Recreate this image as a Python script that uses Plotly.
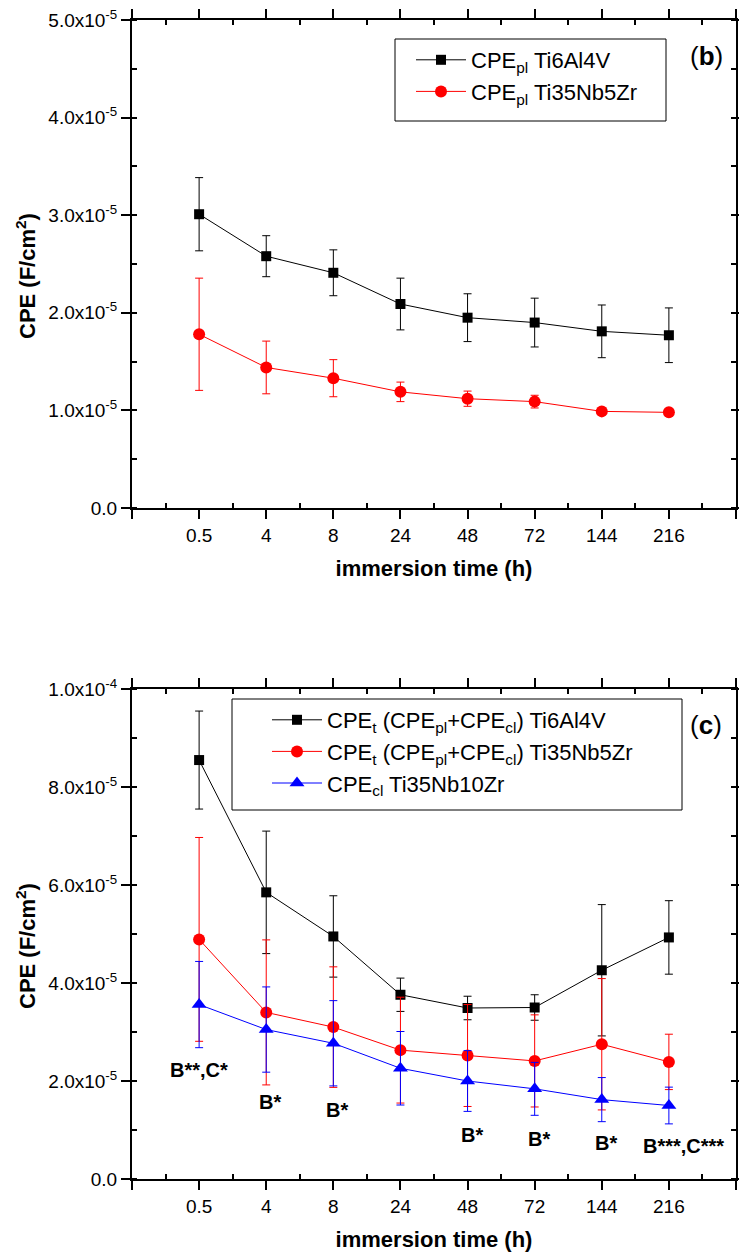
import plotly.graph_objects as go

# immersion times (categorical positions 0..7)
times = ["0.5", "4", "8", "24", "48", "72", "144", "216"]

# (b) CPE_pl values and standard deviations, F/cm^2
cpe_pl_ti6al4v = [3.01e-5, 2.58e-5, 2.41e-5, 2.09e-5, 1.95e-5, 1.90e-5, 1.81e-5, 1.77e-5]
cpe_pl_ti6al4v_sd = [0.375e-5, 0.21e-5, 0.235e-5, 0.265e-5, 0.245e-5, 0.25e-5, 0.27e-5, 0.28e-5]
cpe_pl_ti35nb5zr = [1.78e-5, 1.44e-5, 1.33e-5, 1.19e-5, 1.12e-5, 1.09e-5, 0.99e-5, 0.98e-5]
cpe_pl_ti35nb5zr_sd = [0.575e-5, 0.27e-5, 0.19e-5, 0.10e-5, 0.078e-5, 0.065e-5, 0.02e-5, 0.03e-5]

# (c) CPE_t / CPE_cl values and standard deviations, F/cm^2
cpe_t_ti6al4v = [8.55e-5, 5.85e-5, 4.95e-5, 3.76e-5, 3.49e-5, 3.50e-5, 4.26e-5, 4.93e-5]
cpe_t_ti6al4v_sd = [1.0e-5, 1.25e-5, 0.83e-5, 0.34e-5, 0.24e-5, 0.26e-5, 1.34e-5, 0.75e-5]
cpe_t_ti35nb5zr = [4.89e-5, 3.40e-5, 3.10e-5, 2.63e-5, 2.52e-5, 2.41e-5, 2.75e-5, 2.39e-5]
cpe_t_ti35nb5zr_sd = [2.08e-5, 1.48e-5, 1.23e-5, 1.08e-5, 1.04e-5, 0.94e-5, 1.34e-5, 0.565e-5]
cpe_cl_ti35nb10zr = [3.56e-5, 3.05e-5, 2.77e-5, 2.26e-5, 2.00e-5, 1.84e-5, 1.62e-5, 1.50e-5]
cpe_cl_ti35nb10zr_sd = [0.88e-5, 0.87e-5, 0.87e-5, 0.75e-5, 0.62e-5, 0.54e-5, 0.45e-5, 0.375e-5]

# significance marks under each time point in (c)
sig_labels = ["B**,C*", "B*", "B*", "", "B*", "B*", "B*", "B***,C***"]

# y tick labels
b_tickvals = [0, 1e-5, 2e-5, 3e-5, 4e-5, 5e-5]
b_ticktext = ["0.0", "1.0x10<sup>-5</sup>", "2.0x10<sup>-5</sup>", "3.0x10<sup>-5</sup>",
              "4.0x10<sup>-5</sup>", "5.0x10<sup>-5</sup>"]
c_tickvals = [0, 2e-5, 4e-5, 6e-5, 8e-5, 1e-4]
c_ticktext = ["0.0", "2.0x10<sup>-5</sup>", "4.0x10<sup>-5</sup>", "6.0x10<sup>-5</sup>",
              "8.0x10<sup>-5</sup>", "1.0x10<sup>-4</sup>"]

FONT = "Liberation Sans, Arial, sans-serif"
W, H = 739, 1253
x_idx = list(range(len(times)))

fig = go.Figure()


def add_series(y, sd, name, color, symbol, size, xaxis, yaxis, legend):
    fig.add_trace(go.Scatter(
        x=x_idx, y=y, name=name, mode="lines+markers",
        xaxis=xaxis, yaxis=yaxis, legend=legend,
        line=dict(color=color, width=1),
        marker=dict(color=color, symbol=symbol, size=size, line=dict(width=0)),
        error_y=dict(type="data", array=sd, visible=True, color=color,
                     thickness=1, width=4),
    ))


add_series(cpe_pl_ti6al4v, cpe_pl_ti6al4v_sd, "CPE<sub>pl</sub> Ti6Al4V",
           "#000000", "square", 10, "x", "y", "legend")
add_series(cpe_pl_ti35nb5zr, cpe_pl_ti35nb5zr_sd, "CPE<sub>pl</sub> Ti35Nb5Zr",
           "#ff0000", "circle", 12, "x", "y", "legend")

add_series(cpe_t_ti6al4v, cpe_t_ti6al4v_sd,
           "CPE<sub>t</sub> (CPE<sub>pl</sub>+CPE<sub>cl</sub>) Ti6Al4V",
           "#000000", "square", 10, "x2", "y2", "legend2")
add_series(cpe_t_ti35nb5zr, cpe_t_ti35nb5zr_sd,
           "CPE<sub>t</sub> (CPE<sub>pl</sub>+CPE<sub>cl</sub>) Ti35Nb5Zr",
           "#ff0000", "circle", 12, "x2", "y2", "legend2")
add_series(cpe_cl_ti35nb10zr, cpe_cl_ti35nb10zr_sd, "CPE<sub>cl</sub> Ti35Nb10Zr",
           "#0000ff", "triangle-up", 13, "x2", "y2", "legend2")

# plot areas (pixels) -> paper fractions
left_px, right_px = 132, 736
b_top, b_bot = 20, 508
c_top, c_bot = 689, 1179
xdom = [left_px / W, right_px / W]
ydom_b = [1 - b_bot / H, 1 - b_top / H]
ydom_c = [1 - c_bot / H, 1 - c_top / H]

major_x = list(range(-1, len(times) + 1))
major_x_text = [""] + times + [""]
minor_x = [i + 0.5 for i in range(-1, len(times))]

common_x = dict(
    range=[-1, len(times)], tickmode="array", tickvals=major_x, ticktext=major_x_text,
    ticks="outside", ticklen=9, tickwidth=1.5, tickcolor="black",
    minor=dict(tickmode="array", tickvals=minor_x, ticks="inside", ticklen=5,
               tickwidth=1.5, tickcolor="black"),
    showline=True, linewidth=2, linecolor="black", mirror="ticks",
    showgrid=False, zeroline=False, automargin=False,
    tickfont=dict(family=FONT, size=19, color="black"),
    title=dict(text="<b>immersion time (h)</b>", font=dict(family=FONT, size=22, color="black"),
               standoff=16),
)

common_y = dict(
    ticks="outside", ticklen=9, tickwidth=1.5, tickcolor="black",
    showline=True, linewidth=2, linecolor="black", mirror="ticks",
    showgrid=False, zeroline=False, automargin=False,
    tickfont=dict(family=FONT, size=19, color="black"),
)

legend_style = dict(xanchor="left", yanchor="top",
                    borderwidth=0, bgcolor="rgba(0,0,0,0)",
                    font=dict(family=FONT, size=22, color="black"),
                    itemwidth=50, tracegroupgap=0)

fig.update_layout(
    width=W, height=H,
    margin=dict(l=0, r=0, t=0, b=0),
    paper_bgcolor="white", plot_bgcolor="white",
    font=dict(family=FONT, color="black"),
    xaxis=dict(common_x, domain=xdom, anchor="y"),
    yaxis=dict(common_y, domain=ydom_b, anchor="x", range=[0, 5e-5],
               tickmode="array", tickvals=b_tickvals, ticktext=b_ticktext,
               minor=dict(dtick=0.5e-5, tick0=0, ticks="inside", ticklen=5,
                          tickwidth=1.5, tickcolor="black")),
    xaxis2=dict(common_x, domain=xdom, anchor="y2"),
    yaxis2=dict(common_y, domain=ydom_c, anchor="x2", range=[0, 1e-4],
                tickmode="array", tickvals=c_tickvals, ticktext=c_ticktext,
                minor=dict(dtick=1e-5, tick0=0, ticks="inside", ticklen=5,
                           tickwidth=1.5, tickcolor="black")),
    legend=dict(legend_style, x=411 / W, y=1 - 39 / H),
    legend2=dict(legend_style, x=267 / W, y=1 - 699 / H),
    showlegend=True,
)

# y-axis titles, set slightly below the centre of each panel
for top_px, bot_px in ((b_top, b_bot), (c_top, c_bot)):
    fig.add_annotation(xref="paper", yref="paper", x=26 / W,
                       y=1 - ((top_px + bot_px) / 2 + 12) / H,
                       xanchor="center", yanchor="middle", textangle=-90,
                       text="<b>CPE (F/cm<sup>2</sup>)</b>", showarrow=False,
                       font=dict(family=FONT, size=22, color="black"))

# legend frames
for x0, y0, x1, y1 in ((395, 39, 666, 121), (232, 699, 682, 810)):
    fig.add_shape(type="rect", xref="paper", yref="paper",
                  x0=x0 / W, x1=x1 / W, y0=1 - y1 / H, y1=1 - y0 / H,
                  line=dict(color="black", width=1), fillcolor="white", layer="below")

# panel letters
for letter, ypx in (("b", 56), ("c", 725)):
    fig.add_annotation(xref="paper", yref="paper", x=706 / W, y=1 - ypx / H,
                       xanchor="center", yanchor="middle",
                       text=f"(<b>{letter}</b>)", showarrow=False,
                       font=dict(family=FONT, size=26, color="black"))

# significance marks in (c)
sig_y = [2.23e-5, 1.57e-5, 1.40e-5, 0, 0.90e-5, 0.82e-5, 0.73e-5, 0.68e-5]
sig_dx = [0, 4, 4, 0, 4, 4, 4, 15]
for i, (lab, yy, dx) in enumerate(zip(sig_labels, sig_y, sig_dx)):
    if not lab:
        continue
    fig.add_annotation(xref="x2", yref="y2", x=i, y=yy, xshift=dx, text=f"<b>{lab}</b>",
                       showarrow=False, font=dict(family=FONT, size=20, color="black"))

fig.write_html("out.html")
